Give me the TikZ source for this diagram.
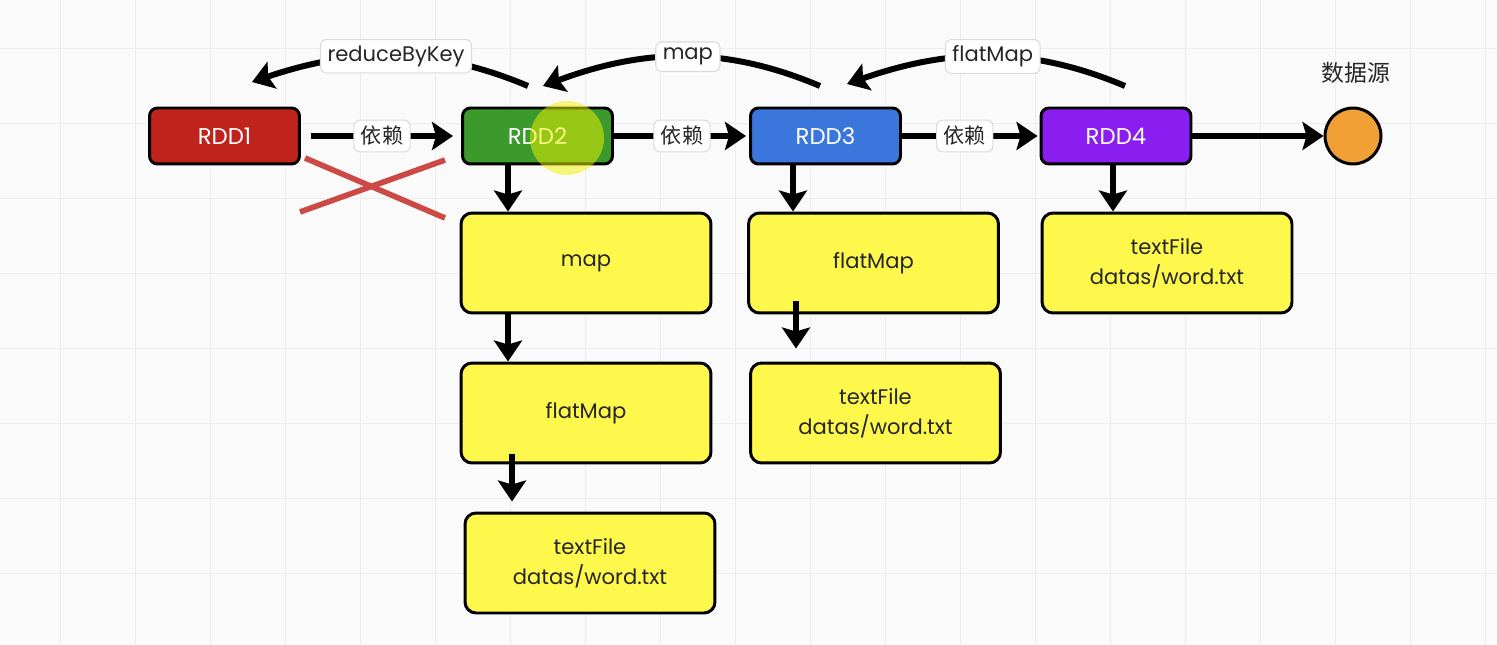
\documentclass[tikz,border=0pt]{standalone}
\usepackage{fontspec}
\setmainfont{Poppins}
\newfontfamily\cjk{Noto Sans CJK SC}
\usetikzlibrary{arrows.meta,calc}
\definecolor{bgc}{HTML}{FAFAFA}
\definecolor{gridc}{HTML}{EDEDED}
\definecolor{cred}{HTML}{C0231B}
\definecolor{cgreen}{HTML}{3C9A2C}
\definecolor{cblue}{HTML}{3A76DB}
\definecolor{cpurple}{HTML}{8A1EF0}
\definecolor{cyellow}{HTML}{FFF84C}
\definecolor{corange}{HTML}{F0A034}
\definecolor{ccross}{HTML}{CC4A45}
\definecolor{cglow}{HTML}{F2F200}
\begin{document}
\begin{tikzpicture}[x=0.02cm,y=-0.02cm,
  rdd/.style={draw=black, line width=1.7pt, rounded corners=0.16cm, minimum width=3cm, minimum height=1.12cm, text=white, font=\fontsize{13}{15}\selectfont, inner sep=0pt},
  opbox/.style={draw=black, line width=1.7pt, rounded corners=0.22cm, fill=cyellow, minimum width=5cm, minimum height=2cm, align=center, font=\fontsize{12}{17}\selectfont, inner sep=0pt, text=black!85},
  arr/.style={line width=3.4pt, -{Stealth[length=0.42cm,width=0.56cm,inset=0.08cm]}},
  lbl/.style={fill=white, draw=gray!28, rounded corners=0.12cm, line width=0.6pt, inner xsep=4pt, inner ysep=3.5pt, font=\fontsize{12}{14}\selectfont, text=black!85},
  clbl/.style={lbl, font=\cjk\fontsize{12}{14}\selectfont}]
\useasboundingbox (0,0) rectangle (1497,645);
\fill[bgc] (0,0) rectangle (1497,645);
\foreach \i in {0,...,19} \draw[gridc, line width=0.5pt] ({60+75*\i},0) -- ({60+75*\i},645);
\foreach \j in {0,...,8} \draw[gridc, line width=0.5pt] (0,{48+75*\j}) -- (1497,{48+75*\j});

% RDD nodes
\node[rdd, fill=cred] (rdd1) at (224.5,136) {RDD1};
\node[rdd, fill=cgreen] (rdd2) at (537.5,136) {RDD2};
\node[rdd, fill=cblue] (rdd3) at (825.5,136) {RDD3};
\node[rdd, fill=cpurple] (rdd4) at (1116,136) {RDD4};
\node[circle, draw=black, line width=1.7pt, fill=corange, minimum size=1.12cm, inner sep=0pt] (src) at (1353,136) {};
\node[font=\cjk\fontsize{13}{15}\selectfont, text=black!85] (srclbl) at (1356,73) {数据源};

% operation boxes
\node[opbox] (map2) at (586,263) {map};
\node[opbox] (flat2) at (586,413) {flatMap};
\node[opbox] (text2) at (590,563) {textFile\\datas/word.txt};
\node[opbox] (flat3) at (873.5,263) {flatMap};
\node[opbox] (text3) at (875.5,413) {textFile\\datas/word.txt};
\node[opbox] (text4) at (1167,263) {textFile\\datas/word.txt};

% horizontal dependencies
\draw[arr] ([xshift=0.2cm]rdd1.east) -- ([xshift=-0.16cm]rdd2.west) node[clbl, midway] (d1) {依赖};
\draw[arr] (rdd2.east) -- ([xshift=-0.06cm]rdd3.west) node[clbl, midway, xshift=0.04cm] (d2) {依赖};
\draw[arr] (rdd3.east) -- ([xshift=-0.04cm]rdd4.west) node[clbl, midway, xshift=-0.1cm] (d3) {依赖};
\draw[arr] (rdd4.east) -- (src.west);

% vertical arrows
\draw[arr] ([xshift=-0.59cm]rdd2.south) -- ([xshift=-0.59cm]rdd2.south |- map2.north);
\draw[arr] ([xshift=-1.56cm]map2.south) -- ([xshift=-1.56cm]map2.south |- flat2.north);
\draw[arr] ([xshift=-1.48cm,yshift=0.2cm]flat2.south) -- ([xshift=-1.48cm,yshift=0.2cm]flat2.south |- text2.north);
\draw[arr] ([xshift=-0.65cm]rdd3.south) -- ([xshift=-0.65cm]rdd3.south |- flat3.north);
\draw[arr] ([xshift=-1.55cm,yshift=0.26cm]flat3.south) -- ([xshift=-1.55cm,yshift=0.26cm]flat3.south |- text3.north);
\draw[arr] ([xshift=-0.06cm]rdd4.south) -- ([xshift=-0.06cm]rdd4.south |- text4.north);

% curved arrows above
\coordinate (r2s) at (528,86);
\coordinate (r1e) at (252,82);
\coordinate (r3s) at (820,86);
\coordinate (r2e) at (543,86);
\coordinate (r4s) at (1125,86);
\coordinate (r3e) at (847,84);
\draw[arr] (r2s) .. controls (438,48) and (358,46) .. (r1e) node[lbl, pos=0.5] (l1) {reduceByKey};
\draw[arr] (r3s) .. controls (730,48) and (650,46) .. (r2e) node[lbl, pos=0.5] (l2) {map};
\draw[arr] (r4s) .. controls (1035,48) and (955,46) .. (r3e) node[lbl, pos=0.5] (l3) {flatMap};

% red cross
\draw[ccross, line width=3.2pt] (305,158) -- (445,218);
\draw[ccross, line width=3.2pt] (300,212) -- (445,160);

% cursor highlight
\fill[cglow, opacity=0.5] (567,138) circle (37);
\end{tikzpicture}
\end{document}
